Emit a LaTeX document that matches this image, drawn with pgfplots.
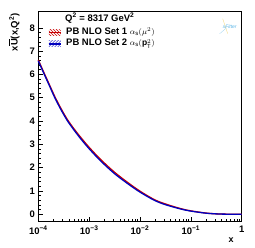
\documentclass[border=0pt]{standalone}
\usepackage{pgfplots}
\pgfplotsset{compat=1.18}
\usepackage{fontspec}
\setmainfont{Liberation Sans}
\usetikzlibrary{patterns}
\definecolor{cred}{RGB}{200,0,0}
\definecolor{cblue}{RGB}{0,0,190}
\definecolor{logoblue}{RGB}{90,180,230}
\definecolor{logoyel}{RGB}{240,215,120}
\begin{document}
\begin{tikzpicture}
\path[use as bounding box] (-38.3bp,-26.3bp) rectangle (216.7bp,221.7bp);
\begin{axis}[
  at={(0,0)}, anchor=south west, scale only axis,
  width=203.4bp, height=210bp,
  xmode=log, xmin=1e-4, xmax=1, ymin=-0.32, ymax=8.69,
  axis line style={line width=0.6pt},
  tick align=inside, xtick pos=bottom, ytick pos=left,
  major tick length=5bp, minor tick length=2.5bp,
  tick style={line width=0.5pt, black},
  xtick={1e-4,1e-3,1e-2,1e-1,1},
  minor xtick={2e-4,3e-4,4e-4,5e-4,6e-4,7e-4,8e-4,9e-4,
               2e-3,3e-3,4e-3,5e-3,6e-3,7e-3,8e-3,9e-3,
               2e-2,3e-2,4e-2,5e-2,6e-2,7e-2,8e-2,9e-2,
               0.2,0.3,0.4,0.5,0.6,0.7,0.8,0.9},
  xticklabels={10\textsuperscript{−4},10\textsuperscript{−3},10\textsuperscript{−2},10\textsuperscript{−1},1},
  ytick={0,1,2,3,4,5,6,7,8}, minor y tick num=4,
  /pgf/number format/assume math mode=true,
  ticklabel style={font=\bfseries\fontsize{9.5}{10}\selectfont},
  xticklabel style={yshift=-1bp},
  clip=false,
]
\addplot[cred, line width=1.3pt, smooth, tension=0.5] coordinates {
(1e-4,6.62) (1.318e-4,6.03) (1.66e-4,5.55) (2.089e-4,5.07) (2.754e-4,4.56)
(3.715e-4,4.07) (5.012e-4,3.67) (6.761e-4,3.31) (1e-3,2.87) (1.698e-3,2.34)
(3.162e-3,1.80) (5.754e-3,1.36) (0.01,0.99) (0.01905,0.63) (0.03162,0.44)
(0.0631,0.24) (0.1,0.145) (0.1995,0.05) (0.3548,0.012) (0.631,0.001) (1,0)
};
\addplot[cblue, line width=1.3pt, smooth, tension=0.5] coordinates {
(1e-4,6.58) (1.318e-4,5.99) (1.66e-4,5.51) (2.089e-4,5.02) (2.754e-4,4.51)
(3.715e-4,4.02) (5.012e-4,3.62) (6.761e-4,3.25) (1e-3,2.81) (1.698e-3,2.28)
(3.162e-3,1.74) (5.754e-3,1.31) (0.01,0.95) (0.01905,0.60) (0.03162,0.41)
(0.0631,0.225) (0.1,0.135) (0.1995,0.045) (0.3548,0.01) (0.631,0.001) (1,0)
};
% legend
\node[anchor=west, font=\bfseries\fontsize{9.5}{11}\selectfont, inner sep=0pt]
  at ([xshift=26.7bp,yshift=-6.8bp]rel axis cs:0,1) {Q\textsuperscript{2} = 8317 GeV\textsuperscript{2}};
\node[anchor=west, font=\bfseries\fontsize{9.5}{11}\selectfont, inner sep=0pt]
  at ([xshift=27.7bp,yshift=-20.3bp]rel axis cs:0,1) {PB NLO Set 1 {\mdseries\fontsize{8.5}{9}\selectfont$\alpha_{\mathrm{s}}(\mu^{2})$}};
\node[anchor=west, font=\bfseries\fontsize{9.5}{11}\selectfont, inner sep=0pt]
  at ([xshift=27.7bp,yshift=-32.3bp]rel axis cs:0,1) {PB NLO Set 2 {\mdseries\fontsize{8.5}{9}\selectfont$\alpha_{\mathrm{s}}(\mathbf{p}_{\mathrm{T}}^{2})$}};
\path[pattern=north west lines, pattern color=cred] ([xshift=10.5bp,yshift=-23.5bp]rel axis cs:0,1) rectangle ([xshift=22.5bp,yshift=-17.5bp]rel axis cs:0,1);
\draw[cred, line width=1.3pt] ([xshift=10.5bp,yshift=-20.5bp]rel axis cs:0,1) -- ([xshift=22.5bp,yshift=-20.5bp]rel axis cs:0,1);
\path[pattern=north east lines, pattern color=cblue] ([xshift=10.5bp,yshift=-35.3bp]rel axis cs:0,1) rectangle ([xshift=22.5bp,yshift=-29.3bp]rel axis cs:0,1);
\draw[cblue, line width=1.3pt] ([xshift=10.5bp,yshift=-32.3bp]rel axis cs:0,1) -- ([xshift=22.5bp,yshift=-32.3bp]rel axis cs:0,1);
% logo
\draw[logoyel, line width=0.3pt] ([xshift=-19bp,yshift=-7bp]rel axis cs:1,1) -- ([xshift=-14bp,yshift=-22bp]rel axis cs:1,1);
\draw[logoblue!60, line width=0.3pt] ([xshift=-22bp,yshift=-22bp]rel axis cs:1,1) -- ([xshift=-15bp,yshift=-16bp]rel axis cs:1,1);
\node[text=logoblue, font=\itshape\fontsize{5}{5}\selectfont, inner sep=0pt] at ([xshift=-12bp,yshift=-15bp]rel axis cs:1,1) {xFitter};
% labels
\node[rotate=90, anchor=east, font=\bfseries\fontsize{9.5}{11}\selectfont, inner sep=0pt]
  at ([xshift=-24bp,yshift=-1.5bp]rel axis cs:0,1) {x$\overline{\hbox{\bfseries U}}$(x,Q\textsuperscript{2})};
\node[font=\bfseries\fontsize{9}{10}\selectfont, inner sep=0pt] at ([xshift=-10.5bp,yshift=-18.5bp]rel axis cs:1,0) {x};
\end{axis}
\end{tikzpicture}
\end{document}
